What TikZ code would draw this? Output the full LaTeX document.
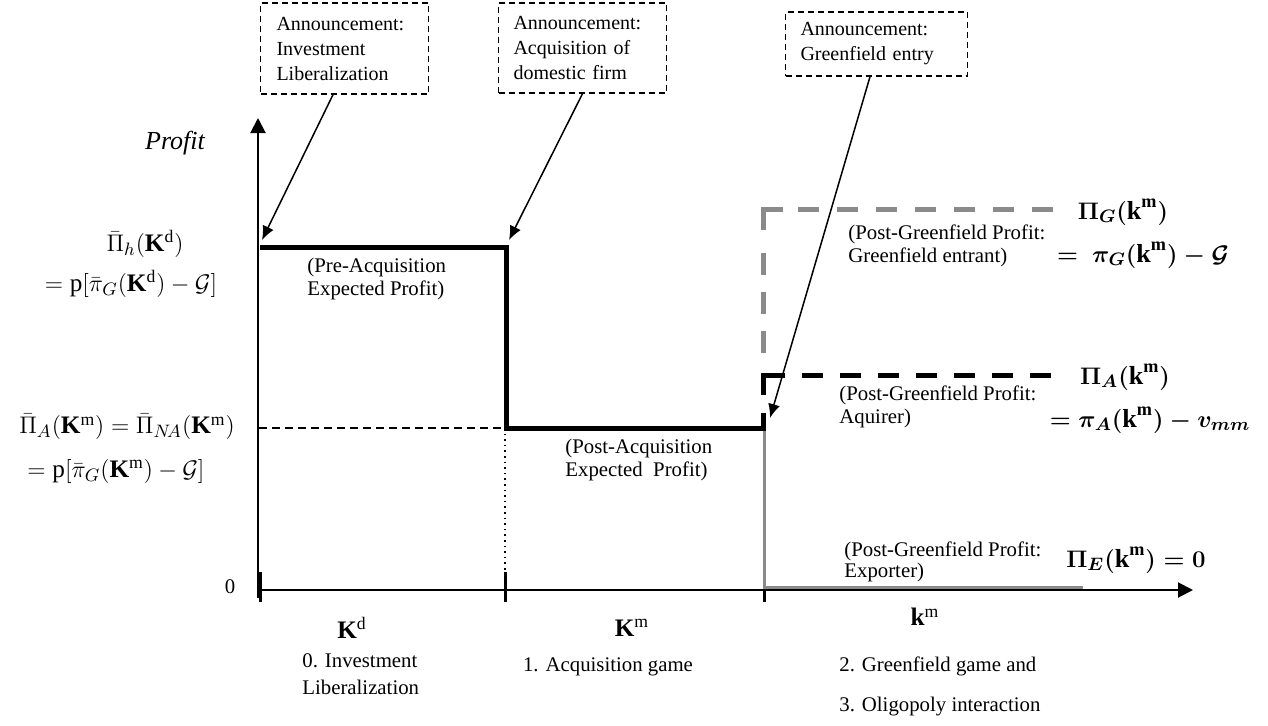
\documentclass[tikz,border=0pt]{standalone}
\usepackage{fontspec}
\setmainfont{Liberation Serif}
\usetikzlibrary{arrows.meta}
\definecolor{gfgrey}{RGB}{138,138,138}
\tikzset{
  announce/.style={draw,dash pattern=on 3pt off 2pt,line width=0.7pt,align=left,
    inner xsep=8pt,font=\fontsize{10}{12.5}\selectfont},
  lbl/.style={anchor=west,align=left,inner sep=1pt,font=\fontsize{10.4}{11.5}\selectfont},
  stage/.style={align=left,inner sep=1pt,font=\fontsize{10.4}{13.5}\selectfont},
  eqn/.style={inner sep=0.5pt,font=\fontsize{12.6}{15}\selectfont},
  eqnb/.style={inner sep=0.5pt,font=\fontsize{13}{15}\selectfont\boldmath},
  axis/.style={line width=1pt,-{Triangle[length=7.5pt,width=7.5pt]}},
  profit/.style={line width=2.5pt},
  pointer/.style={line width=0.75pt,-{Latex[length=7pt,width=6pt]}}
}

\begin{document}
\begin{tikzpicture}[x=25pt,y=25pt]
\useasboundingbox (0,0) rectangle (25.36,14.5);
% axes
\coordinate (ytop) at (5.16,12.14);
\coordinate (xend) at (23.86,2.70);
\draw[axis] (5.16,2.55) -- (ytop);
\draw[axis] (5.16,2.70) -- (xend);
\foreach \x in {5.20,10.10,15.28}
  \draw[line width=1.5pt] (\x,2.46) -- (\x,3.06);
\draw[line width=0.6pt,dash pattern=on 4pt off 2.5pt] (5.18,5.94) -- (10.12,5.94);
\draw[line width=0.8pt,dotted] (10.10,5.94) -- (10.10,3.06);

% greenfield profits
\draw[gfgrey,line width=1.5pt] (15.28,5.94) -- (15.28,2.76) -- (21.66,2.76);
\draw[gfgrey,profit] (15.26,9.90) -- (15.26,10.32) -- (15.66,10.32);
\draw[gfgrey,profit,dash pattern=on 10.5pt off 9pt] (15.96,10.32) -- (21.10,10.32);
\draw[gfgrey,profit,dash pattern=on 11pt off 8.5pt] (15.26,7.44) -- (15.26,9.50);
\draw[profit] (15.26,6.60) -- (15.26,7.00) -- (15.70,7.00);
\draw[profit,dash pattern=on 10.5pt off 8.5pt] (16.04,7.00) -- (21.14,7.00);

% expected profits
\draw[profit] (5.20,9.56) -- (10.12,9.56) -- (10.12,5.94) -- (15.26,5.94) -- (15.26,6.24);

% announcements
\node[announce,text width=68pt,minimum height=45.5pt] (annLib) at (6.89,13.53)
  {Announcement:\\Investment\\Liberalization};
\node[announce,text width=69pt,minimum height=45pt,inner xsep=7.5pt] (annAcq) at (11.65,13.54)
  {Announcement:\\Acquisition of\\domestic firm};
\node[announce,text width=76pt,minimum height=32pt,inner xsep=7.5pt] (annGf) at (17.53,13.62)
  {Announcement:\\Greenfield entry};
\coordinate (tipLib) at (5.24,9.70);
\coordinate (tipAcq) at (10.18,9.70);
\coordinate (tipGf) at (15.40,6.14);
\draw[pointer] ([xshift=-5.75pt]annLib.south) -- (tipLib);
\draw[pointer] (annAcq.south) -- (tipAcq);
\draw[pointer] ([xshift=-3.25pt]annGf.south) -- (tipGf);

% axis labels
\node[font=\fontsize{13}{15}\selectfont\itshape] (profit) at (3.50,11.64) {Profit};
\node[font=\fontsize{10.4}{12}\selectfont] (zero) at (4.60,2.76) {0};
\node[eqn] (kd) at (7.04,1.94) {$\mathbf{K}^{\mathrm{d}}$};
\node[eqn] (Km) at (12.64,1.94) {$\mathbf{K}^{\mathrm{m}}$};
\node[eqn] (km) at (18.50,2.16) {$\mathbf{k}^{\mathrm{m}}$};

% left values
\node[eqn] (piH) at (2.90,9.62) {$\bar\Pi_h(\mathbf{K}^{\mathrm{d}})$};
\node[eqn] (piHv) at (2.62,8.82) {$=\mathrm{p}[\bar\pi_G(\mathbf{K}^{\mathrm{d}})-\mathcal{G}]$};
\node[eqn] (piA) at (2.54,5.96) {$\bar\Pi_A(\mathbf{K}^{\mathrm{m}})=\bar\Pi_{N\!A}(\mathbf{K}^{\mathrm{m}})$};
\node[eqn] (piAv) at (2.32,5.08) {$=\mathrm{p}[\bar\pi_G(\mathbf{K}^{\mathrm{m}})-\mathcal{G}]$};

% right values
\node[eqnb] (piG) at (22.46,10.26) {$\Pi_G(\textbf{k}^{\mathrm{m}})$};
\node[eqnb] (piGv) at (22.86,9.40) {$=\ \pi_G(\textbf{k}^{\mathrm{m}})-\mathcal{G}$};
\node[eqnb] (piAq) at (22.50,6.96) {$\Pi_A(\textbf{k}^{\mathrm{m}})$};
\node[eqnb] (piAqv) at (23.00,6.10) {$=\pi_A(\textbf{k}^{\mathrm{m}})-v_{mm}$};
\node[eqnb] (piE) at (22.72,3.30) {$\Pi_E(\textbf{k}^{\mathrm{m}})=0$};

% curve labels
\node[lbl] (preAcq) at (6.10,8.93) {(Pre-Acquisition\\Expected Profit)};
\node[lbl] (postAcq) at (11.26,5.30) {(Post-Acquisition\\Expected\ \ Profit)};
\node[lbl] (postGf) at (16.92,9.59) {(Post-Greenfield Profit:\\Greenfield entrant)};
\node[lbl] (postAq) at (16.74,6.37) {(Post-Greenfield Profit:\\Aquirer)};
\node[lbl,font=\fontsize{10.4}{10.5}\selectfont] (postEx) at (16.84,3.26) {(Post-Greenfield Profit:\\Exporter)};

% stages
\node[stage,anchor=west] (stLib) at (6.00,1.02) {0. Investment\\Liberalization};
\node[stage] (stAcq) at (12.16,1.16) {1. Acquisition game};
\node[stage,anchor=west] (stGf) at (16.74,1.18) {2. Greenfield game and};
\node[stage,anchor=west] (stOl) at (16.74,0.36) {3. Oligopoly interaction};
\end{tikzpicture}
\end{document}
